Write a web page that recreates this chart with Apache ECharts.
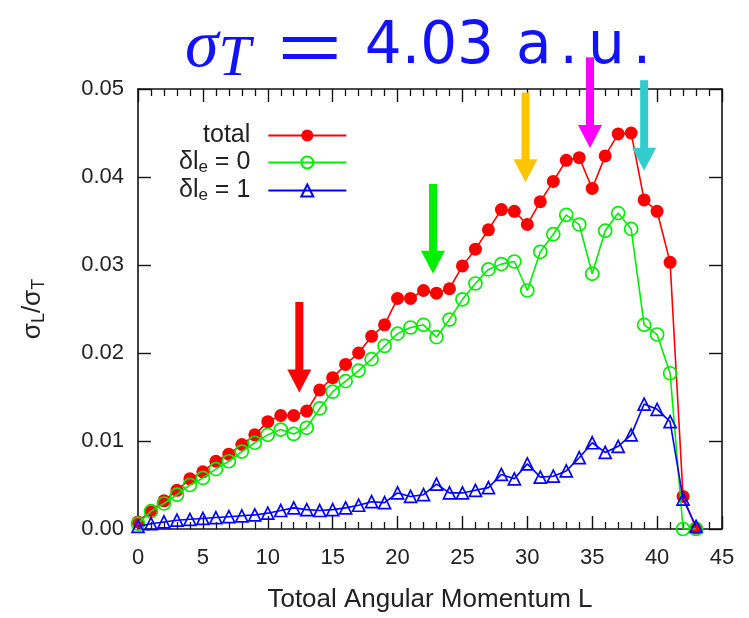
<!DOCTYPE html>
<html>
<head>
<meta charset="utf-8">
<script src="https://cdn.jsdelivr.net/npm/echarts@6/dist/echarts.min.js"></script>
<style>
  html, body { margin: 0; padding: 0; background: #ffffff; overflow: hidden; }
  #chart { width: 749px; height: 618px; }
</style>
</head>
<body>
<div id="chart"></div>
<script>
// Total angular momentum L
const L = [0,1,2,3,4,5,6,7,8,9,10,11,12,13,14,15,16,17,18,19,20,21,22,23,24,25,26,27,28,29,30,31,32,33,34,35,36,37,38,39,40,41,42,43];

// sigma_L / sigma_T, all channels
const total = [0.0008,0.0021,0.0032,0.0044,0.0057,0.0065,0.0077,0.0085,0.0096,0.0107,
               0.0122,0.0129,0.0129,0.0134,0.0158,0.0172,0.0187,0.0200,0.0219,0.0232,
               0.0262,0.0262,0.0271,0.0268,0.0273,0.0299,0.0318,0.0340,0.0363,0.0361,
               0.0346,0.0372,0.0395,0.0419,0.0422,0.0387,0.0424,0.0449,0.0450,0.0374,
               0.0361,0.0303,0.0037,0.0001];

// delta l_e = 0 channel
const dle0 = [0.0006,0.0020,0.0029,0.0039,0.0050,0.0058,0.0068,0.0077,0.0088,0.0098,
              0.0107,0.0113,0.0108,0.0115,0.0137,0.0156,0.0168,0.0180,0.0193,0.0208,
              0.0222,0.0229,0.0232,0.0218,0.0238,0.0261,0.0279,0.0295,0.0301,0.0304,
              0.0271,0.0315,0.0335,0.0357,0.0346,0.0290,0.0339,0.0359,0.0341,0.0232,
              0.0221,0.0177,0.0000,0.0000];

// delta l_e = 1 channel
const dle1 = [0.0003,0.0006,0.0008,0.0010,0.0011,0.0012,0.0013,0.0014,0.0015,0.0016,
              0.0018,0.0021,0.0024,0.0022,0.0021,0.0022,0.0024,0.0027,0.0031,0.0030,
              0.0041,0.0037,0.0039,0.0051,0.0041,0.0041,0.0044,0.0047,0.0062,0.0057,
              0.0074,0.0059,0.0060,0.0066,0.0081,0.0098,0.0087,0.0094,0.0107,0.0142,
              0.0136,0.0122,0.0034,0.0003];

const seriesNames = ['total', 'δle = 0', 'δle = 1'];
const legendLabels = ['{n|total}', '{n|δl}{s|e}{n| = 0}', '{n|δl}{s|e}{n| = 1}'];

// Annotation arrows: L position, value at shaft top, value at arrow tip
const arrowL    = [12.43, 22.73, 29.86, 34.83, 39.0];
const arrowTop  = [0.0258, 0.0392, 0.0496, 0.0536, 0.0510];
const arrowTip  = [0.0155, 0.0290, 0.0394, 0.0433, 0.0407];
const arrowColor = ['#ff0000', '#00ee00', '#ffc400', '#ff00ff', '#33cccc'];

const FONT = "'Liberation Sans', Arial, sans-serif";
const AXIS_COLOR = '#111111';
const TEXT_COLOR = '#222222';
const TITLE_COLOR = '#1212ff';

function pairs(ys) { return L.map((x, i) => [x, ys[i]]); }

function frameAxis(extra) {
  return Object.assign({
    type: 'value',
    axisLine: { show: true, onZero: false, lineStyle: { color: AXIS_COLOR, width: 1.6 } },
    axisTick: { show: true, inside: true, length: 13, lineStyle: { color: AXIS_COLOR, width: 1.4 } },
    splitLine: { show: false },
    axisLabel: { show: false }
  }, extra);
}

const chart = echarts.init(document.getElementById('chart'), null, { renderer: 'canvas', width: 749, height: 618 });

const titleSans = { fontFamily: "'DejaVu Sans', sans-serif", fontWeight: 'normal', fontSize: 58, color: TITLE_COLOR };

const option = {
  backgroundColor: '#ffffff',
  animation: false,
  title: {
    text: '{s|σ}{t|T}{e|＝}{n|4.03}{a|a}{p|.}{n|u}{p|.}',
    left: 180,
    top: 2,
    textStyle: {
      fontWeight: 'normal',
      rich: {
        s: { fontFamily: "'Liberation Serif', serif", fontStyle: 'italic', fontWeight: 'normal', fontSize: 68, color: TITLE_COLOR },
        t: { fontFamily: "'Liberation Serif', serif", fontStyle: 'italic', fontWeight: 'normal', fontSize: 58, color: TITLE_COLOR, padding: [24, 0, 0, 0] },
        e: { fontFamily: "'Noto Sans CJK JP', sans-serif", fontWeight: 'normal', fontSize: 74, color: TITLE_COLOR, padding: [0, 18, 0, 22] },
        n: titleSans,
        a: Object.assign({}, titleSans, { padding: [0, 0, 0, 22] }),
        p: Object.assign({}, titleSans, { padding: [0, 10, 0, 8] })
      }
    }
  },
  legend: {
    orient: 'vertical',
    left: 174,
    top: 118,
    align: 'right',
    itemWidth: 78,
    itemHeight: 15,
    itemGap: 2,
    data: seriesNames,
    formatter: name => legendLabels[seriesNames.indexOf(name)],
    textStyle: {
      fontFamily: FONT, fontSize: 25, color: TEXT_COLOR, padding: [0, 13, 0, 0],
      rich: {
        n: { fontFamily: FONT, fontSize: 25, color: TEXT_COLOR },
        s: { fontFamily: FONT, fontSize: 17, color: TEXT_COLOR, padding: [10, 0, 0, 0] }
      }
    }
  },
  grid: { left: 138, right: 27, top: 89, bottom: 82, containLabel: false },
  xAxis: [
    frameAxis({
      min: 0, max: 45, interval: 5, position: 'bottom',
      minorTick: { show: true, splitNumber: 5, length: 7, lineStyle: { color: AXIS_COLOR, width: 1.3 } },
      axisLabel: { show: true, margin: 18, fontFamily: FONT, fontSize: 22, color: TEXT_COLOR },
      name: 'Totoal Angular Momentum L',
      nameLocation: 'middle',
      nameGap: 58,
      nameTextStyle: { fontFamily: FONT, fontSize: 26, color: TEXT_COLOR }
    }),
    frameAxis({
      min: 0, max: 45, interval: 5, position: 'top',
      minorTick: { show: true, splitNumber: 5, length: 7, lineStyle: { color: AXIS_COLOR, width: 1.3 } }
    })
  ],
  yAxis: [
    frameAxis({
      min: 0, max: 0.05, interval: 0.01, position: 'left',
      axisLabel: { show: true, margin: 14, fontFamily: FONT, fontSize: 22, color: TEXT_COLOR,
                   formatter: v => v.toFixed(2) },
      name: '{a|σ}{b|L}{a|/σ}{b|T}',
      nameLocation: 'middle',
      nameGap: 90,
      nameTextStyle: {
        rich: {
          a: { fontFamily: FONT, fontSize: 26, color: TEXT_COLOR },
          b: { fontFamily: FONT, fontSize: 18, color: TEXT_COLOR, padding: [12, 0, 0, 0] }
        }
      }
    }),
    frameAxis({ min: 0, max: 0.05, interval: 0.01, position: 'right' })
  ],
  series: [
    {
      name: seriesNames[0], type: 'line', data: pairs(total),
      symbol: 'circle', symbolSize: 13,
      itemStyle: { color: '#ff0000' },
      lineStyle: { color: '#ff0000', width: 1.6 },
      z: 3
    },
    {
      name: seriesNames[1], type: 'line', data: pairs(dle0),
      symbol: 'circle', symbolSize: 13,
      itemStyle: { color: 'rgba(0,0,0,0)', borderColor: '#00ee00', borderWidth: 1.7 },
      lineStyle: { color: '#00ee00', width: 1.6 },
      z: 4
    },
    {
      name: seriesNames[2], type: 'line', data: pairs(dle1),
      symbol: 'triangle', symbolSize: 12,
      itemStyle: { color: 'rgba(0,0,0,0)', borderColor: '#0000ff', borderWidth: 1.7 },
      lineStyle: { color: '#0000ff', width: 1.6 },
      z: 5
    }
  ]
};

chart.setOption(option);

// Arrows placed in data coordinates via the grid's own scales
function arrowGraphics() {
  const items = [];
  const headH = 23, headW = 24, shaftW = 8;
  arrowL.forEach((x, i) => {
    const top = chart.convertToPixel({ xAxisIndex: 0, yAxisIndex: 0 }, [x, arrowTop[i]]);
    const tip = chart.convertToPixel({ xAxisIndex: 0, yAxisIndex: 0 }, [x, arrowTip[i]]);
    const cx = tip[0];
    items.push({
      type: 'rect', z: 10,
      shape: { x: cx - shaftW / 2, y: top[1], width: shaftW, height: tip[1] - headH - top[1] + 1 },
      style: { fill: arrowColor[i] }
    });
    items.push({
      type: 'polygon', z: 10,
      shape: { points: [[cx - headW / 2, tip[1] - headH], [cx + headW / 2, tip[1] - headH], [cx, tip[1]]] },
      style: { fill: arrowColor[i] }
    });
  });
  return items;
}

chart.setOption({ graphic: arrowGraphics() });
</script>
</body>
</html>
